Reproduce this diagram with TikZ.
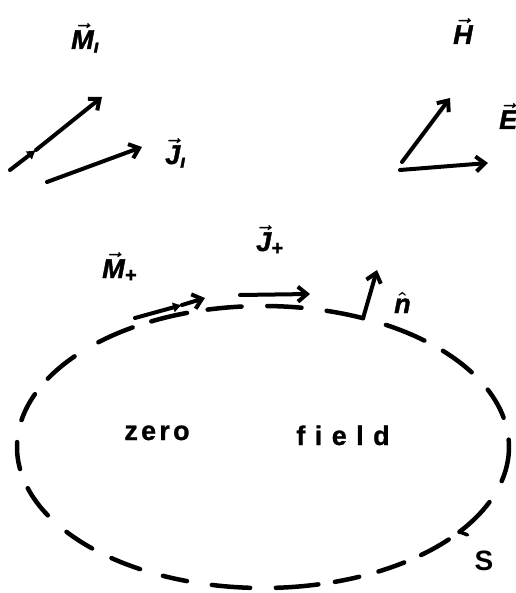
\documentclass[tikz,border=0pt]{standalone}
\usepackage{amsmath}
\usepackage{fontspec}
\setmainfont{Liberation Sans}
\usetikzlibrary{arrows.meta}

\newcommand{\plussub}{\text{\fontsize{20}{24}\selectfont +}}
\tikzset{
  current/.style={line width=4pt,line cap=round,-{Straight Barb[length=9pt,width=15pt]}},
  midtip/.style={line width=4pt,line cap=round,-{Latex[length=9pt,width=11pt]}},
  surf/.style={line width=4.5pt,line cap=round},
  lbl/.style={font=\bfseries\itshape\fontsize{27}{32}\selectfont\addfontfeatures{FakeBold=1.5},inner sep=0pt,anchor=base west},
  word/.style={font=\bfseries\fontsize{27}{32}\selectfont,inner sep=0pt,anchor=base},
}

\begin{document}
\begin{tikzpicture}[x=1pt,y=-1pt]
\useasboundingbox (0,0) rectangle (515,593);

% impressed sources
\coordinate (Mi0) at (10,170);
\coordinate (Mim) at (36,150);
\coordinate (Mi1) at (102,97);
\coordinate (Ji0) at (47,182);
\coordinate (Ji1) at (142,147);
\draw[midtip] (Mi0) -- (Mim);
\draw[current] (Mim) -- (Mi1);
\draw[current] (Ji0) -- (Ji1);
\node[lbl] (Mi) at (71,49) {$\boldsymbol{\vec{\text{M}}}_{\text{\i}}$};
\node[lbl] (Ji) at (165,164) {$\boldsymbol{\vec{\text{J}}}_{\text{\i}}$};

% fields
\coordinate (H0) at (402,162);
\coordinate (H1) at (450,98);
\coordinate (E0) at (400,170);
\coordinate (E1) at (488,163);
\draw[current] (H0) -- (H1);
\draw[current] (E0) -- (E1);
\node[lbl] (H) at (453,44) {$\boldsymbol{\vec{\text{H}}}$};
\node[lbl] (E) at (499,129) {$\boldsymbol{\vec{\text{E}}}$};

% surface S
\coordinate (c) at (263,447);
\foreach \a/\b in {-117/-108,-103/-95,-89/-81,-75/-66,-60/-49,-43/-32,-24/-12,-3/14,
  23/37,41/50,55/62,67/73,77/87,93/102,108/114,120/128,134/143,151/163,171/182,
  -169/-158,-151/-140,-132/-122}
  \draw[surf] (c) ++(\a:246 and 141) arc[start angle=\a,end angle=\b,x radius=246,y radius=141];
\path (c) ++(37:246 and 141) coordinate (hk);
\draw[line width=3.5pt,line cap=round] (hk) -- ++(8,3);
\node[word,font=\bfseries\fontsize{28}{32}\selectfont] (S) at (484,570) {S};

% surface currents
\coordinate (Mp0) at (135,318);
\coordinate (Mpm) at (182,305);
\coordinate (Mp1) at (205,298);
\coordinate (Jp0) at (240,295);
\coordinate (Jp1) at (310,294);
\path (c) ++(-66:246 and 141) coordinate (n0);
\coordinate (n1) at (377,270);
\draw[midtip] (Mp0) -- (Mpm);
\draw[current] (Mpm) -- (Mp1);
\draw[current] (Jp0) -- (Jp1);
\draw[current] (n0) -- (n1);
\node[lbl] (Mp) at (102,278) {$\boldsymbol{\vec{\text{M}}}_{\plussub}$};
\node[lbl] (Jp) at (256,251) {$\boldsymbol{\vec{\text{J}}}_{\plussub}$};
\node[lbl] (n) at (394,313) {$\boldsymbol{\hat{\text{n}}}$};

\node[word,font=\bfseries\fontsize{27}{32}\selectfont\addfontfeatures{LetterSpace=12,FakeBold=1}] (zero) at (157,440) {zero};
\node[word,font=\bfseries\fontsize{27}{32}\selectfont\addfontfeatures{LetterSpace=35,FakeBold=1}] (field) at (343,445) {field};
\end{tikzpicture}
\end{document}
